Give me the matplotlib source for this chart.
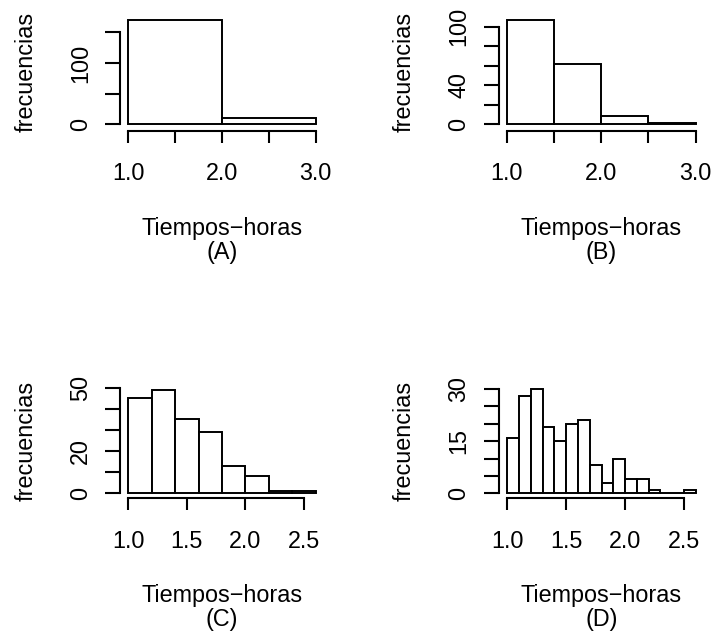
import matplotlib
matplotlib.use("Agg")
import matplotlib.pyplot as plt
import numpy as np

plt.rcParams['font.family'] = ['Liberation Sans', 'DejaVu Sans']

# ---------------- data ----------------
breaks_a = [1.0, 2.0, 3.0]
counts_a = [170, 10]
breaks_b = [1.0, 1.5, 2.0, 2.5, 3.0]
counts_b = [107, 62, 9, 1]
breaks_c = [1.0, 1.2, 1.4, 1.6, 1.8, 2.0, 2.2, 2.4, 2.6]
counts_c = [45, 49, 35, 29, 13, 8, 1, 1]
breaks_d = [1.0, 1.1, 1.2, 1.3, 1.4, 1.5, 1.6, 1.7, 1.8, 1.9, 2.0,
            2.1, 2.2, 2.3, 2.4, 2.5, 2.6]
counts_d = [16, 28, 30, 19, 15, 20, 21, 8, 3, 10, 4, 4, 1, 0, 0, 1]

xticks_ab = [1.0, 1.5, 2.0, 2.5, 3.0]
xlabels_ab = ['1.0', '', '2.0', '', '3.0']
xticks_cd = [1.0, 1.5, 2.0, 2.5]
xlabels_cd = ['1.0', '1.5', '2.0', '2.5']

yticks_a = [0, 50, 100, 150]
ylabels_a = ['0', '', '100', '']
yticks_b = [0, 20, 40, 60, 80, 100]
ylabels_b = ['0', '', '40', '', '', '100']
yticks_c = [0, 10, 20, 30, 40, 50]
ylabels_c = ['0', '', '20', '', '', '50']
yticks_d = [0, 5, 10, 15, 20, 25, 30]
ylabels_d = ['0', '', '', '15', '', '', '30']

xlab = 'Tiempos\u2212horas'
ylab = 'frecuencias'
subs = ['(A)', '(B)', '(C)', '(D)']

# ---------------- layout (pixels) ----------------
W, H = 711, 637
DPI = 100
PT = 72.0 / DPI  # points per pixel
FS = 16.8
LW_BAR = 1.4
LW_AX = 1.5

fig = plt.figure(figsize=(W / DPI, H / DPI), dpi=DPI)
fig.patch.set_facecolor('white')

# (x0 data, x0 px, x1 data, x1 px, y0 data, y0 px, y1 data, y1 px, yaxis line px, xaxis line px)
maps = [
    (1.0, 128.3, 3.0, 315.7, 0, 124.3, 150, 32.3, 120.0, 130.7),
    (1.0, 506.7, 3.0, 695.7, 0, 124.3, 100, 26.7, 498.5, 130.7),
    (1.0, 128.3, 2.5, 304.0, 0, 493.0, 50, 387.7, 120.0, 498.2),
    (1.0, 507.3, 2.5, 684.0, 0, 493.3, 30, 389.0, 498.5, 498.2),
]

panels = [
    (breaks_a, counts_a, xticks_ab, xlabels_ab, yticks_a, ylabels_a),
    (breaks_b, counts_b, xticks_ab, xlabels_ab, yticks_b, ylabels_b),
    (breaks_c, counts_c, xticks_cd, xlabels_cd, yticks_c, ylabels_c),
    (breaks_d, counts_d, xticks_cd, xlabels_cd, yticks_d, ylabels_d),
]

XTL = 12.0   # x tick length px
YTL = 15.0   # y tick length px

for (brk, cnt, xt, xtl, yt, ytl), m, sub in zip(panels, maps, subs):
    x0d, x0p, x1d, x1p, y0d, y0p, y1d, y1p, ylinep, xlinep = m
    sx = (x1p - x0p) / (x1d - x0d)
    sy = (y0p - y1p) / (y1d - y0d)
    rng = brk[-1] - brk[0]
    ymax = max(cnt)
    right_d = brk[-1] + 0.04 * rng
    top_d = 1.04 * ymax
    left_p = ylinep
    right_p = x0p + (right_d - x0d) * sx
    bottom_p = xlinep
    top_p = y0p - (top_d - y0d) * sy
    ax = fig.add_axes([left_p / W, 1 - bottom_p / H,
                       (right_p - left_p) / W, (bottom_p - top_p) / H])
    ax.set_xlim(x0d - (x0p - left_p) / sx, right_d)
    ax.set_ylim(y0d - (bottom_p - y0p) / sy, top_d)
    ax.set_facecolor('none')

    ax.bar(brk[:-1], cnt, width=np.diff(brk), align='edge',
           facecolor='white', edgecolor='black', linewidth=LW_BAR)

    for s in ('top', 'right'):
        ax.spines[s].set_visible(False)
    ax.spines['left'].set_bounds(yt[0], yt[-1])
    ax.spines['bottom'].set_bounds(xt[0], xt[-1])
    ax.spines['left'].set_linewidth(LW_AX)
    ax.spines['bottom'].set_linewidth(LW_AX)

    ax.set_xticks(xt)
    ax.set_xticklabels(xtl)
    ax.set_yticks(yt)
    ax.set_yticklabels(ytl)
    ax.tick_params(axis='x', direction='out', length=XTL * PT, width=LW_AX,
                   pad=(49.5 - XTL) * PT, labelsize=FS, colors='black')
    ax.tick_params(axis='y', direction='out', length=YTL * PT, width=LW_AX,
                   pad=(33.0 - YTL) * PT, labelsize=FS, colors='black')
    for lab in ax.get_xticklabels():
        lab.set_va('baseline')
        lab.set_ha('center')
    for lab in ax.get_yticklabels():
        lab.set_rotation(90)
        lab.set_rotation_mode('anchor')
        lab.set_ha('center')
        lab.set_va('baseline')

    xmid = (brk[0] + brk[-1]) / 2.0
    ax.annotate(xlab, xy=(xmid, 0), xycoords=('data', 'axes fraction'),
                xytext=(0, -104.0 * PT), textcoords='offset points',
                ha='center', va='baseline', fontsize=FS, annotation_clip=False)
    ax.annotate(sub, xy=(xmid, 0), xycoords=('data', 'axes fraction'),
                xytext=(0, -128.0 * PT), textcoords='offset points',
                ha='center', va='baseline', fontsize=FS, annotation_clip=False)
    ax.annotate(ylab, xy=(0, ymax / 2.0), xycoords=('axes fraction', 'data'),
                xytext=(-87.5 * PT, 0), textcoords='offset points',
                rotation=90, rotation_mode='anchor',
                ha='center', va='baseline', fontsize=FS, annotation_clip=False)

fig.savefig('out.png', dpi=DPI, facecolor='white')
